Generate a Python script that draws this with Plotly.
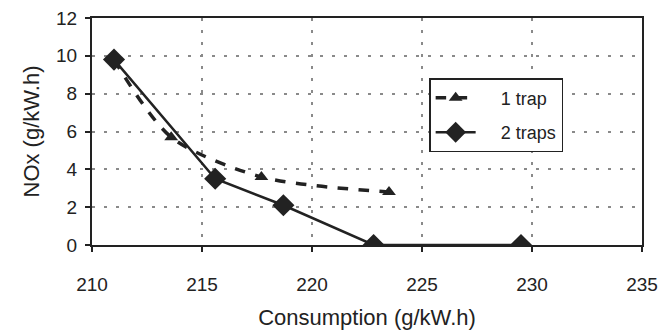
import plotly.graph_objects as go

# NOx emissions versus specific fuel consumption
one_trap_x = [211.0, 213.6, 217.7, 223.5]
one_trap_y = [9.8, 5.7, 3.6, 2.8]

two_traps_x = [211.0, 215.6, 218.7, 222.8, 229.5]
two_traps_y = [9.8, 3.5, 2.1, 0.0, 0.0]

x_ticks = [210, 215, 220, 225, 230, 235]
y_ticks = [0, 2, 4, 6, 8, 10, 12]

ink = "#222222"
family = "Liberation Sans, Arial, sans-serif"
tick_font = dict(family=family, size=19, color=ink)
title_font = dict(family=family, size=22, color=ink)
pad = "\u00a0" * 4

fig = go.Figure()
fig.add_trace(go.Scatter(
    x=one_trap_x, y=one_trap_y, name=pad + "1 trap", legendgroup="a",
    mode="lines+markers", line=dict(color=ink, width=3.5, dash="dash", shape="spline", smoothing=0.8),
    marker=dict(symbol="triangle-up", size=12, color=ink),
))
fig.add_trace(go.Scatter(
    x=two_traps_x, y=two_traps_y, name=pad + "2 traps", legendgroup="b",
    mode="lines+markers", line=dict(color=ink, width=2.5),
    marker=dict(symbol="diamond", size=17, color=ink),
))

axis_common = dict(
    showline=True, linecolor=ink, linewidth=2, mirror=True,
    showgrid=True, gridcolor="#8a8a8a", griddash="3px,9px", gridwidth=2,
    ticks="outside", ticklen=5, tickcolor=ink, tickwidth=1.5, zeroline=False,
    tickfont=tick_font, automargin=False,
)
fig.update_xaxes(range=[210, 235], tickvals=x_ticks, ticklabelstandoff=16,
                 title=dict(text="Consumption (g/kW.h)", font=title_font, standoff=16), **axis_common)
fig.update_yaxes(range=[0, 12], tickvals=y_ticks, ticklabelstandoff=4,
                 title=dict(text="NOx (g/kW.h)", font=title_font, standoff=10), **axis_common)

fig.update_layout(
    width=668, height=333,
    margin=dict(l=92, r=26, t=18, b=88),
    paper_bgcolor="white", plot_bgcolor="white",
    font=tick_font,
    showlegend=True,
    legend=dict(x=0.613, y=0.735, xanchor="left", yanchor="top",
                bgcolor="white", bordercolor=ink, borderwidth=1.5,
                font=dict(family=family, size=18, color=ink),
                tracegroupgap=8, itemwidth=40),
)

fig.write_html("out.html")
